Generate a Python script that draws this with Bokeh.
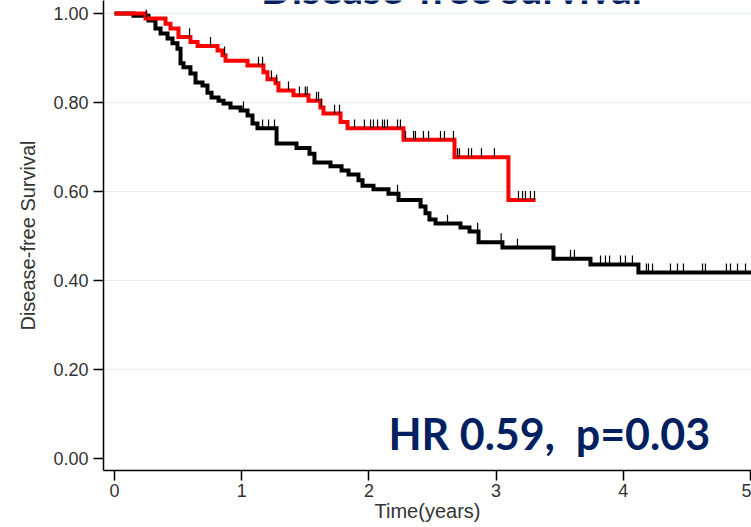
import numpy as np
from bokeh.plotting import figure
from bokeh.models import Range1d, FixedTicker, NumeralTickFormatter, Label, ColumnDataSource
from bokeh.embed import file_html
from bokeh.resources import INLINE

# ---- data ----
red_t = [0, 0.244, 0.401, 0.440, 0.503, 0.597, 0.653, 0.810, 0.849, 0.873,
         1.046, 1.171, 1.203, 1.266, 1.289, 1.407, 1.525, 1.619, 1.643, 1.777,
         1.832, 2.272, 2.673, 3.097, 3.31]
red_s = [1.0, 0.989, 0.977, 0.966, 0.947, 0.936, 0.927, 0.917, 0.906, 0.894,
         0.883, 0.868, 0.852, 0.843, 0.827, 0.816, 0.804, 0.789, 0.775, 0.756,
         0.742, 0.716, 0.677, 0.581, 0.581]
red_cens = [0.25, 0.59, 0.755, 0.865, 1.132, 1.164, 1.234, 1.274, 1.368, 1.454,
            1.50, 1.515, 1.588, 1.604, 1.627, 1.730, 1.769, 1.887, 1.965, 2.013,
            2.036, 2.068, 2.107, 2.123, 2.146, 2.225, 2.248, 2.288, 2.351, 2.366,
            2.429, 2.469, 2.563, 2.594, 2.665, 2.697, 2.712, 2.783, 2.807, 2.885,
            2.987, 3.176, 3.208, 3.231, 3.270, 3.302]

black_t = [0, 0.149, 0.267, 0.322, 0.362, 0.417, 0.456, 0.495, 0.519, 0.542,
           0.597, 0.637, 0.692, 0.731, 0.763, 0.818, 0.857, 0.912, 0.991, 1.046,
           1.085, 1.124, 1.274, 1.431, 1.533, 1.572, 1.698, 1.785, 1.840, 1.918,
           1.950, 2.036, 2.154, 2.233, 2.406, 2.445, 2.476, 2.524, 2.720, 2.791,
           2.862, 3.050, 3.451, 3.742, 4.119, 5.1]
black_s = [1.0, 0.995, 0.984, 0.966, 0.955, 0.944, 0.933, 0.921, 0.888, 0.879,
           0.865, 0.845, 0.838, 0.822, 0.811, 0.804, 0.798, 0.789, 0.782, 0.771,
           0.753, 0.742, 0.708, 0.698, 0.685, 0.665, 0.657, 0.647, 0.638, 0.625,
           0.613, 0.605, 0.595, 0.581, 0.566, 0.551, 0.537, 0.528, 0.519, 0.510,
           0.486, 0.474, 0.449, 0.436, 0.418, 0.418]
black_cens = [1.014, 1.164, 1.211, 1.258, 2.225, 2.618, 2.855, 3.04, 3.168, 3.585,
              3.616, 3.821, 3.860, 3.892, 3.978, 4.017, 4.072, 4.182, 4.198, 4.230,
              4.371, 4.426, 4.473, 4.623, 4.646, 4.811, 4.843, 4.898, 4.961]

x_ticks = [0, 1, 2, 3, 4, 5]
y_ticks = [0.0, 0.2, 0.4, 0.6, 0.8, 1.0]

title_text = "Disease-free survival"
hr_text = "HR 0.59,\u00a0 p=0.03"
x_title = "Time(years)"
y_title = "Disease-free Survival"

NAVY = "#002060"
GREY = "#333333"

p = figure(width=751, height=527, output_backend="svg", toolbar_location=None,
           x_range=Range1d(-0.0865, 5.008), y_range=Range1d(-0.027, 1.0292),
           min_border_left=103, min_border_right=0, min_border_top=0,
           min_border_bottom=57)
p.outline_line_color = None
p.background_fill_color = "white"
p.border_fill_color = "white"

p.xgrid.visible = False
p.ygrid.ticker = FixedTicker(ticks=y_ticks[1:])
p.ygrid.grid_line_color = "#e8eef2"
p.ygrid.grid_line_width = 1

for ax in (p.xaxis[0], p.yaxis[0]):
    ax.axis_line_color = "black"
    ax.axis_line_width = 1.5
    ax.major_tick_line_color = "black"
    ax.major_tick_line_width = 1.5
    ax.major_tick_in = 0
    ax.major_tick_out = 10
    ax.minor_tick_line_color = None
    ax.major_label_text_font = "Liberation Sans"
    ax.major_label_text_font_size = "18px"
    ax.major_label_text_color = GREY
    ax.axis_label_text_font = "Liberation Sans"
    ax.axis_label_text_font_size = "20px"
    ax.axis_label_text_font_style = "normal"
    ax.axis_label_text_color = GREY

p.xaxis.ticker = FixedTicker(ticks=x_ticks)
p.xaxis.major_label_standoff = 3
p.xaxis.axis_label = x_title
p.xaxis.axis_label_standoff = 0
p.yaxis.ticker = FixedTicker(ticks=y_ticks)
p.yaxis.formatter = NumeralTickFormatter(format="0.00")
p.yaxis.major_label_standoff = 5
p.yaxis.axis_label = y_title
p.yaxis.axis_label_standoff = 11


def level_at(ts, ss, cs):
    ts = np.asarray(ts)
    ss = np.asarray(ss)
    idx = np.searchsorted(ts, np.asarray(cs), side="right") - 1
    return ss[idx]


p.step(black_t, black_s, mode="after", line_color="black", line_width=4,
       line_join="miter")
p.step(red_t, red_s, mode="after", line_color="#ff0000", line_width=4,
       line_join="miter")

tick_len = 0.02
for ts, ss, cs in ((black_t, black_s, black_cens), (red_t, red_s, red_cens)):
    lv = level_at(ts, ss, cs)
    src = ColumnDataSource(dict(x=cs, y0=lv, y1=lv + tick_len))
    p.segment(x0="x", y0="y0", x1="x", y1="y1", source=src,
              line_color="black", line_width=1.2)

p.add_layout(Label(x=2.154, y=0.0553, text=hr_text, text_font="Lato",
                   text_font_style="bold", text_font_size="43px",
                   text_color=NAVY, text_baseline="middle",
                   text_align="left"))

p.add_layout(Label(x=2.649, y=1.056, text=title_text,
                   text_font="Lato", text_font_style="bold",
                   text_font_size="41px", text_color=NAVY,
                   text_baseline="middle", text_align="center"))

open("out.html", "w").write(file_html(p, INLINE))
